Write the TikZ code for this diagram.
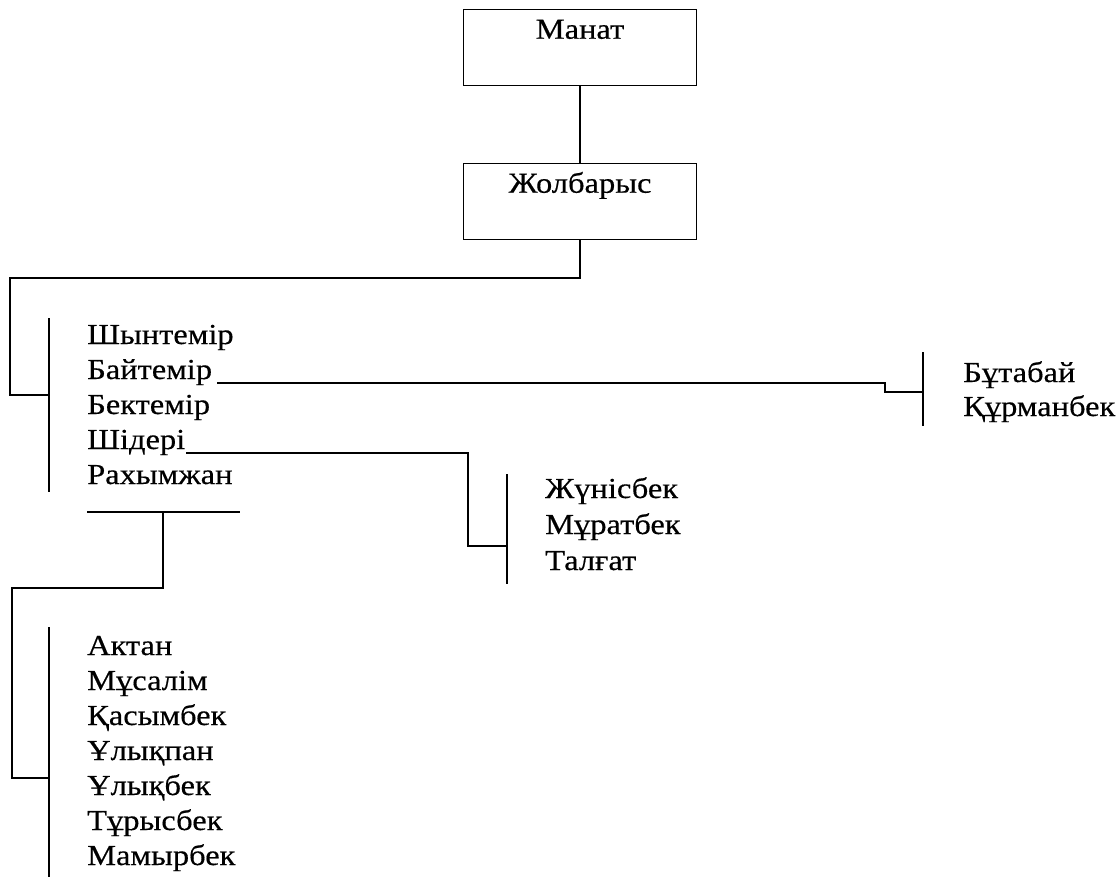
\documentclass[tikz,border=0pt]{standalone}
\usepackage{fontspec}
\setmainfont{Liberation Serif}[FakeStretch=1.12,FakeBold=0.4]
\begin{document}
\begin{tikzpicture}[x=1pt,y=-1pt,
  every node/.style={font=\fontsize{29}{35}\selectfont, inner sep=0pt},
  box/.style={draw, line width=1.5pt, minimum width=233pt, text height=29pt, text depth=47pt, inner xsep=0pt, inner ysep=0pt, anchor=north},
  nm/.style={anchor=base west},
  con/.style={line width=1.6pt}]
\useasboundingbox (0,0) rectangle (1118,877);
% boxes
\node[box] (manat) at (580,9) {Манат};
\node[box] (zhol) at (580,163) {Жолбарыс};
\draw[con] (manat.south) -- (zhol.north);
% first group
\coordinate (b1t) at (49,318);
\coordinate (b1b) at (49,492);
\coordinate (b1m) at (49,395);
\coordinate (j1) at (10,278);
\draw[con] (zhol.south) |- (j1) |- (b1m);
\draw[con] (b1t) -- (b1b);
\node[nm] (n1) at (87,344) {Шынтемір};
\node[nm] (n2) at (87,379) {Байтемір};
\node[nm] (n3) at (87,414) {Бектемір};
\node[nm] (n4) at (87,449) {Шідері};
\node[nm] (n5) at (87,484) {Рахымжан};
% Baitemir branch
\coordinate (k2) at (885,383);
\coordinate (b2t) at (923,352);
\coordinate (b2b) at (923,426);
\coordinate (b2m) at (923,392);
\draw[con] (n2.base east) ++(5,4) coordinate (s2) -- (s2 -| k2) |- (b2m);
\draw[con] (b2t) -- (b2b);
\node[nm] (m1) at (963,382) {Бұтабай};
\node[nm] (m2) at (963,416) {Құрманбек};
% Shideri branch
\coordinate (k4) at (468,455);
\coordinate (b3t) at (507,474);
\coordinate (b3b) at (507,584);
\coordinate (b3m) at (507,546);
\draw[con] (n4.base east) ++(1,4) coordinate (s4) -- (s4 -| k4) |- (b3m);
\draw[con] (b3t) -- (b3b);
\node[nm] (p1) at (545,498) {Жүнісбек};
\node[nm] (p2) at (545,534) {Мұратбек};
\node[nm] (p3) at (545,570) {Талғат};
% Rahymzhan branch
\coordinate (u1) at (87,512);
\coordinate (u2) at (240,512);
\coordinate (um) at (163,512);
\coordinate (j2) at (12,588);
\coordinate (b4t) at (49,627);
\coordinate (b4b) at (49,877);
\coordinate (b4m) at (49,778);
\draw[con] (u1) -- (u2);
\draw[con] (um) |- (j2) |- (b4m);
\draw[con] (b4t) -- (b4b);
\node[nm] (q1) at (87,655) {Актан};
\node[nm] (q2) at (87,690) {Мұсалім};
\node[nm] (q3) at (87,725) {Қасымбек};
\node[nm] (q4) at (87,760) {Ұлықпан};
\node[nm] (q5) at (87,795) {Ұлықбек};
\node[nm] (q6) at (87,830) {Тұрысбек};
\node[nm] (q7) at (87,865) {Мамырбек};
\end{tikzpicture}
\end{document}
